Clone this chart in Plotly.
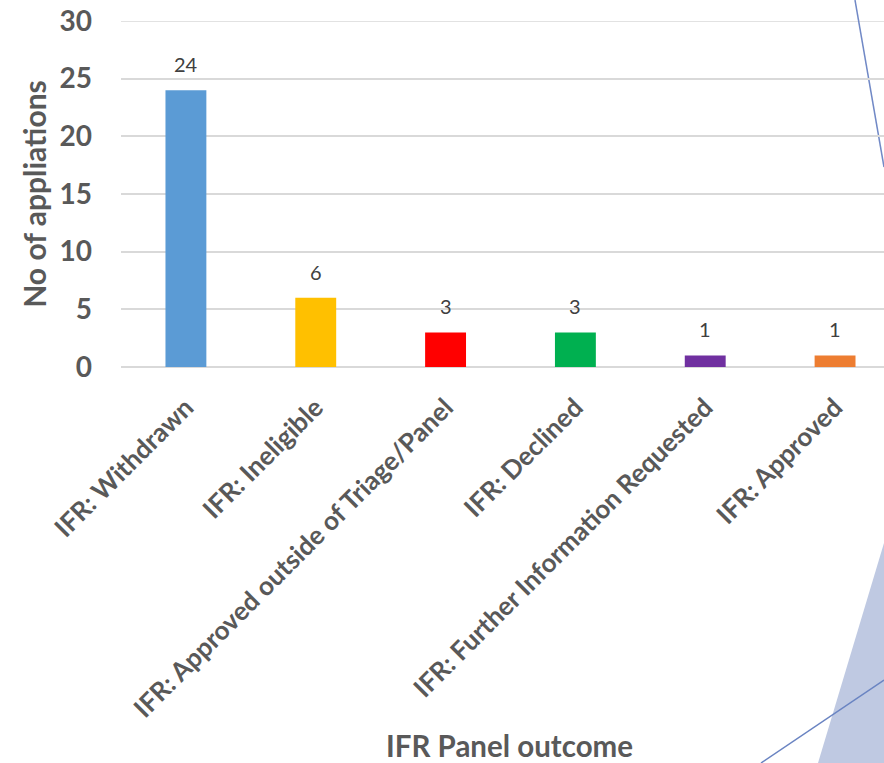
import plotly.graph_objects as go

categories = ["IFR: Withdrawn", "IFR: Ineligible", "IFR: Approved outside of Triage/Panel",
              "IFR: Declined", "IFR: Further Information Requested", "IFR: Approved"]
counts = [24, 6, 3, 3, 1, 1]
bar_colors = ["#5B9BD5", "#FFC000", "#FF0000", "#00B050", "#7030A0", "#ED7D31"]
y_ticks = [0, 5, 10, 15, 20, 25, 30]
x_title = "IFR Panel outcome"
y_title = "No of appliations"

W, H = 884, 763
L, R, T, B = 121, 0, 21, 396

fig = go.Figure(go.Bar(
    x=categories, y=counts, marker=dict(color=bar_colors, line=dict(width=0)),
    width=0.315,
))

for c, v in zip(categories, counts):
    fig.add_annotation(x=c, y=v, text=str(v), showarrow=False, yanchor="bottom",
                       yshift=12, font=dict(family="Lato", size=20, color="#404040"))

def px2paper(px, py):
    return (px - L) / (W - L - R), (H - B - py) / (H - T - B)

# x-axis title placed as in the reference (slightly right of the plot centre)
tx, ty = px2paper(510, 745)
fig.add_annotation(x=tx, y=ty, xref="paper", yref="paper", text=x_title, showarrow=False,
                   xanchor="center", yanchor="middle",
                   font=dict(family="Lato", size=29.5, color="#595959", weight="bold"))

shapes = []
# top gridline
shapes.append(dict(type="line", xref="paper", yref="y", x0=0, x1=1, y0=y_ticks[-1], y1=y_ticks[-1],
                   line=dict(color="#D9D9D9", width=1.5), layer="below"))
# decorative slide background shapes
x0, y0 = px2paper(855, 0); x1, y1 = px2paper(884, 167)
shapes.append(dict(type="line", xref="paper", yref="paper", x0=x0, y0=y0, x1=x1, y1=y1,
                   line=dict(color="#7189C6", width=1.5), layer="below"))
pa = px2paper(884, 543); pb = px2paper(818, 763); pc = px2paper(884, 763)
shapes.append(dict(type="path", xref="paper", yref="paper",
                   path=f"M {pa[0]} {pa[1]} L {pb[0]} {pb[1]} L {pc[0]} {pc[1]} Z",
                   fillcolor="#BFC9E2", line=dict(width=0), layer="below"))
x0, y0 = px2paper(761, 763); x1, y1 = px2paper(884, 680)
shapes.append(dict(type="line", xref="paper", yref="paper", x0=x0, y0=y0, x1=x1, y1=y1,
                   line=dict(color="#6A84C2", width=1.5)))

fig.update_layout(
    width=W, height=H, margin=dict(l=L, r=R, t=T, b=B, autoexpand=False),
    paper_bgcolor="white", plot_bgcolor="white", showlegend=False,
    shapes=shapes,
    font=dict(family="Lato", color="#595959"),
)
fig.update_xaxes(
    range=[-0.5, 5.377], tickangle=-45, showgrid=False, showline=False,
    tickfont=dict(family="Lato", size=26, color="#595959", weight="bold"),
    ticks="outside", ticklen=14, tickcolor="rgba(0,0,0,0)",
)
fig.update_yaxes(
    range=[0, 30], tickvals=y_ticks, showgrid=True, gridcolor="#D9D9D9", gridwidth=1.5,
    zeroline=True, zerolinecolor="#D9D9D9", zerolinewidth=1.5, showline=False,
    tickfont=dict(family="Lato", size=28, color="#595959", weight="bold"),
    ticklabelstandoff=28, ticklabeloverflow="allow",
    title=dict(text=y_title, font=dict(family="Lato", size=30, color="#595959", weight="bold"),
               standoff=4),
)

fig.write_html("out.html", config={"displayModeBar": False},
               post_script="document.body.style.margin='0';")
